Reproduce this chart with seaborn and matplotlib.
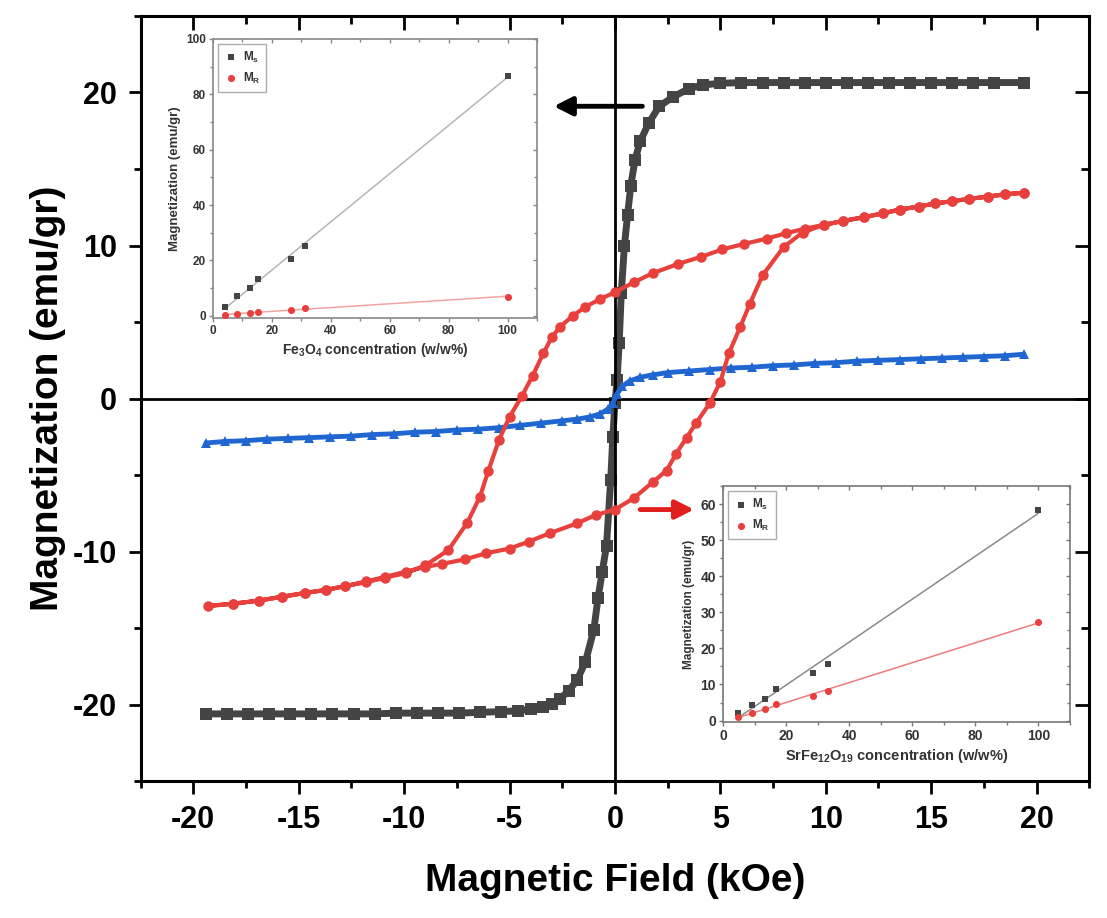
import numpy as np
import pandas as pd
import matplotlib
matplotlib.use('Agg')
import matplotlib.pyplot as plt
from matplotlib.ticker import MultipleLocator
import seaborn as sns

# 主图数据：磁滞回线 (H / kOe, M / emu/gr)
gray_h = [-19.4, -18.4, -17.4, -16.4, -15.4, -14.4, -13.4, -12.4, -11.4, -10.4,
          -9.4, -8.4, -7.4, -6.4, -5.4, -4.6, -4.0, -3.4, -3.0, -2.6,
          -2.2, -1.8, -1.4, -1.0, -0.8, -0.6, -0.4, -0.2, -0.1, 0.0,
          0.1, 0.2, 0.3, 0.45, 0.6, 0.75, 0.95, 1.2, 1.6, 2.1,
          2.75, 3.5, 4.2, 5.0, 6.0, 7.0, 8.0, 9.0, 10.0, 11.0,
          12.0, 13.0, 14.0, 15.0, 16.0, 17.0, 18.0, 19.4]
gray_m = [-20.6, -20.6, -20.6, -20.6, -20.6, -20.6, -20.6, -20.6, -20.6, -20.55,
          -20.55, -20.55, -20.55, -20.5, -20.45, -20.4, -20.3, -20.15, -19.95, -19.6,
          -19.1, -18.4, -17.2, -15.1, -13.0, -11.3, -9.6, -5.3, -2.5, -0.3,
          1.2, 3.6, 6.9, 10.0, 12.0, 13.9, 15.6, 16.8, 18.0, 19.1,
          19.7, 20.25, 20.5, 20.6, 20.65, 20.65, 20.65, 20.65, 20.65, 20.65,
          20.65, 20.65, 20.65, 20.65, 20.65, 20.65, 20.65, 20.65]

# 红色回线：下降支 + 上升支
red_up_h = [19.4, 18.5, 17.7, 16.8, 16.0, 15.2, 14.4, 13.5, 12.7, 11.8,
            10.8, 9.9, 9.0, 8.1, 7.2, 6.1, 5.1, 4.1, 3.0, 1.8,
            0.9, 0.0, -0.7, -1.4, -2.0, -2.6, -3.0, -3.4, -3.9, -4.4,
            -5.0, -5.5, -6.0, -6.4, -7.0, -7.9, -9.0, -9.9, -10.9, -11.8,
            -12.8, -13.7, -14.7, -15.8, -16.9, -18.1, -19.3]
red_up_m = [13.45, 13.35, 13.2, 13.05, 12.9, 12.75, 12.55, 12.35, 12.1, 11.85,
            11.6, 11.35, 11.1, 10.8, 10.45, 10.1, 9.75, 9.27, 8.8, 8.2,
            7.6, 6.95, 6.5, 6.0, 5.4, 4.7, 4.0, 2.95, 1.5, 0.2,
            -1.2, -2.7, -4.7, -6.4, -8.1, -9.9, -10.9, -11.4, -11.7, -12.0,
            -12.25, -12.5, -12.7, -12.95, -13.2, -13.4, -13.55]
red_lo_h = [-18.1, -16.9, -15.8, -14.7, -13.7, -12.8, -11.8, -10.9, -9.9, -9.0,
            -8.2, -7.1, -6.1, -5.0, -4.1, -3.1, -1.8, -0.9, 0.0, 0.9,
            1.8, 2.45, 2.9, 3.4, 3.85, 4.5, 5.0, 5.4, 5.95, 6.4,
            7.0, 8.0, 8.9, 9.9, 10.8, 11.8, 12.7, 13.5, 14.4, 15.2,
            16.0, 16.8, 17.7, 18.5, 19.4]
red_lo_m = [-13.4, -13.2, -12.95, -12.7, -12.5, -12.25, -11.95, -11.65, -11.3, -11.0,
            -10.8, -10.5, -10.1, -9.8, -9.35, -8.8, -8.15, -7.6, -7.25, -6.5,
            -5.45, -4.7, -3.6, -2.55, -1.6, -0.3, 1.1, 2.95, 4.7, 6.2,
            8.05, 9.9, 10.85, 11.35, 11.6, 11.85, 12.1, 12.35, 12.55, 12.75,
            12.9, 13.05, 13.2, 13.35, 13.45]

blue_h = [-19.4, -18.5, -17.5, -16.5, -15.5, -14.5, -13.5, -12.5, -11.5, -10.5,
          -9.5, -8.5, -7.5, -6.5, -5.5, -4.5, -3.5, -2.5, -1.8, -1.2,
          -0.7, -0.35, -0.1, 0.1, 0.35, 0.7, 1.2, 1.8, 2.5, 3.5,
          4.5, 5.5, 6.5, 7.5, 8.5, 9.5, 10.5, 11.5, 12.5, 13.5,
          14.5, 15.5, 16.5, 17.5, 18.5, 19.4]
blue_m = [-2.9, -2.8, -2.75, -2.65, -2.6, -2.55, -2.5, -2.45, -2.35, -2.3,
          -2.2, -2.15, -2.05, -2.0, -1.9, -1.75, -1.6, -1.45, -1.35, -1.2,
          -1.0, -0.7, -0.3, 0.3, 0.8, 1.15, 1.4, 1.55, 1.7, 1.8,
          1.9, 2.0, 2.05, 2.15, 2.2, 2.3, 2.35, 2.45, 2.5, 2.55,
          2.6, 2.65, 2.7, 2.75, 2.8, 2.9]

# 插图数据
fe_conc = [4.2, 8.3, 12.4, 15.4, 26.6, 31.2, 100]
fe_ms = [3.3, 7.1, 9.9, 13.3, 20.6, 25.3, 86.7]
fe_mr = [0.3, 0.6, 1.0, 1.3, 2.2, 2.9, 6.9]
sr_conc = [4.8, 9.2, 13.2, 16.7, 28.6, 33.4, 100]
sr_ms = [2.0, 4.2, 5.9, 8.7, 13.3, 15.6, 58.4]
sr_mr = [1.1, 2.2, 3.1, 4.5, 6.9, 8.2, 27.3]

GRAY = '#444444'
RED = '#e8403c'
BLUE = '#1f66d1'

sns.set_style('ticks')
plt.rcParams['font.family'] = ['Liberation Sans', 'DejaVu Sans']
plt.rcParams['font.weight'] = 'bold'
plt.rcParams['axes.labelweight'] = 'bold'
plt.rcParams['axes.labelcolor'] = 'black'
plt.rcParams['xtick.color'] = 'black'
plt.rcParams['ytick.color'] = 'black'
plt.rcParams['axes.unicode_minus'] = False
plt.rcParams['mathtext.default'] = 'regular'


def mirror_ticks(a, xmaj, xmin, ymaj, ymin, lmaj, lmin, width, color):
    """上边和右边的刻度朝内"""
    top = a.secondary_xaxis('top')
    top.xaxis.set_major_locator(MultipleLocator(xmaj))
    top.xaxis.set_minor_locator(MultipleLocator(xmin))
    top.tick_params(which='major', direction='in', length=lmaj, width=width,
                    color=color, labeltop=False)
    top.tick_params(which='minor', direction='in', length=lmin, width=width, color=color)
    top.spines['top'].set_visible(False)
    right = a.secondary_yaxis('right')
    right.yaxis.set_major_locator(MultipleLocator(ymaj))
    right.yaxis.set_minor_locator(MultipleLocator(ymin))
    right.tick_params(which='major', direction='in', length=lmaj, width=width,
                      color=color, labelright=False)
    right.tick_params(which='minor', direction='in', length=lmin, width=width, color=color)
    right.spines['right'].set_visible(False)


fig = plt.figure(figsize=(11.07, 9.18), dpi=100)
ax = fig.add_axes([0.127, 0.149, 0.857, 0.8336])

ax.axhline(0, color='black', lw=2, zorder=2.5)
ax.axvline(0, color='black', lw=2, zorder=2.5)

gray_df = pd.DataFrame({'H': gray_h, 'M': gray_m})
sns.lineplot(data=gray_df, x='H', y='M', ax=ax, sort=False, estimator=None,
             color=GRAY, lw=5, marker='s', markersize=8, markeredgewidth=0, zorder=2)

blue_df = pd.DataFrame({'H': blue_h, 'M': blue_m})
sns.lineplot(data=blue_df, x='H', y='M', ax=ax, sort=False, estimator=None,
             color=BLUE, lw=3.5, marker='^', markersize=7.5, markeredgewidth=0, zorder=3)

red_df = pd.DataFrame({'H': red_up_h + red_lo_h, 'M': red_up_m + red_lo_m})
sns.lineplot(data=red_df, x='H', y='M', ax=ax, sort=False, estimator=None,
             color=RED, lw=3, marker='o', markersize=7.5, markeredgewidth=0, zorder=3)

ax.set_xlim(-22.5, 22.5)
ax.set_ylim(-25, 25)
ax.xaxis.set_major_locator(MultipleLocator(5))
ax.xaxis.set_minor_locator(MultipleLocator(2.5))
ax.yaxis.set_major_locator(MultipleLocator(10))
ax.yaxis.set_minor_locator(MultipleLocator(5))
ax.tick_params(which='major', direction='out', length=9, width=2, labelsize=22, pad=8,
               color='black', labelcolor='black')
ax.tick_params(which='minor', direction='out', length=5, width=2, color='black')
for s in ax.spines.values():
    s.set_linewidth(2.2)
    s.set_color('black')
mirror_ticks(ax, 5, 2.5, 10, 5, 10, 6, 2, 'black')

ax.set_xlabel('Magnetic Field (kOe)', fontsize=28, labelpad=20, color='black')
ax.set_ylabel('Magnetization (emu/gr)', fontsize=28, labelpad=5, color='black')

# 箭头
ax.annotate('', xy=(-2.9, 19.1), xytext=(1.3, 19.1),
            arrowprops=dict(arrowstyle='-|>,head_length=0.55,head_width=0.28',
                            color='black', lw=3.5, mutation_scale=20,
                            shrinkA=0, shrinkB=0))
ax.annotate('', xy=(3.75, -7.25), xytext=(1.2, -7.25),
            arrowprops=dict(arrowstyle='-|>,head_length=0.55,head_width=0.28',
                            color='#e0201c', lw=3.5, mutation_scale=20,
                            shrinkA=0, shrinkB=0))


def draw_inset(rect, conc, ms, mr, ylim, ymaj, ymin, xlabel, line_gray, line_red,
               spine_color, tick_fs, xlab_fs, ylab_fs):
    a = fig.add_axes(rect)
    a.set_facecolor('white')
    sns.regplot(x=conc, y=ms, ax=a, scatter=False, ci=None, truncate=True,
                line_kws=dict(color=line_gray, lw=1.1))
    sns.regplot(x=conc, y=mr, ax=a, scatter=False, ci=None, truncate=True,
                line_kws=dict(color=line_red, lw=1.1))
    sns.scatterplot(x=conc, y=ms, ax=a, marker='s', color=GRAY, s=22,
                    linewidth=0, label=r'M$_\mathregular{s}$', zorder=4)
    sns.scatterplot(x=conc, y=mr, ax=a, marker='o', color=RED, s=26,
                    linewidth=0, label=r'M$_\mathregular{R}$', zorder=4)
    a.set_xlim(0, 110)
    a.set_ylim(*ylim)
    a.xaxis.set_major_locator(MultipleLocator(20))
    a.xaxis.set_minor_locator(MultipleLocator(10))
    a.yaxis.set_major_locator(MultipleLocator(ymaj))
    a.yaxis.set_minor_locator(MultipleLocator(ymin))
    a.tick_params(which='major', direction='out', length=3, width=1, labelsize=tick_fs,
                  pad=2, color=spine_color, labelcolor='#333333')
    a.tick_params(which='minor', direction='out', length=2, width=1, color=spine_color)
    for s in a.spines.values():
        s.set_linewidth(1.2)
        s.set_color(spine_color)
    mirror_ticks(a, 20, 10, ymaj, ymin, 3, 2, 1, spine_color)
    a.set_xlabel(xlabel, fontsize=xlab_fs, color='#333333', labelpad=3)
    a.set_ylabel('Magnetization (emu/gr)', fontsize=ylab_fs, color='#333333', labelpad=4)
    leg = a.legend(loc='upper left', fontsize=8.5, frameon=True, fancybox=False,
                   handletextpad=0.4, borderpad=0.5, handlelength=1.2,
                   labelspacing=0.5, borderaxespad=0.4)
    leg.get_frame().set_edgecolor('#999999')
    leg.get_frame().set_linewidth(1)
    for t in leg.get_texts():
        t.set_color('#333333')
    return a


draw_inset([0.1924, 0.6536, 0.2927, 0.304], fe_conc, fe_ms, fe_mr, (-0.8, 100), 20, 10,
           r'Fe$_\mathregular{3}$O$_\mathregular{4}$ concentration (w/w%)',
           '#b5b5b5', '#f2a3a3', '#888888', 8.5, 10, 9.5)
draw_inset([0.6531, 0.2135, 0.3135, 0.257], sr_conc, sr_ms, sr_mr, (-0.4, 65), 10, 5,
           r'SrFe$_\mathregular{12}$O$_\mathregular{19}$ concentration (w/w%)',
           '#8a8a8a', '#ee7b7b', '#777777', 10, 10.5, 8.5)

fig.savefig('out.png', dpi=100)
